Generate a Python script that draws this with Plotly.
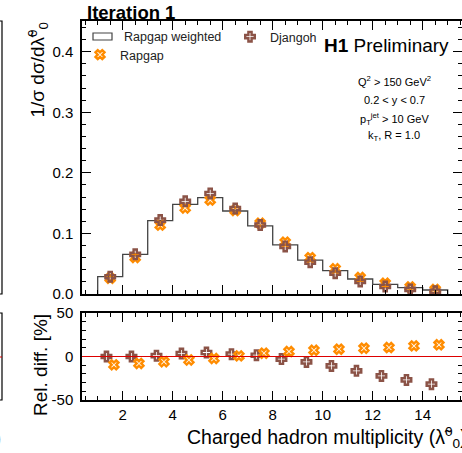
import plotly.graph_objects as go

# Charged hadron multiplicity bins (edges) and normalised cross sections
bin_edges = [1, 2, 3, 4, 5, 6, 7, 8, 9, 10, 11, 12, 13, 14, 15]
rapgap_weighted = [0.0286, 0.0655, 0.121, 0.148, 0.159, 0.137, 0.1125,
                   0.081, 0.056, 0.0385, 0.0248, 0.016, 0.0104, 0.0066]
rapgap = [0.0259, 0.0603, 0.1137, 0.142, 0.155, 0.138, 0.1168,
          0.0856, 0.060, 0.0417, 0.0272, 0.0176, 0.0117, 0.0075]
djangoh = [0.0286, 0.0655, 0.122, 0.153, 0.166, 0.141, 0.114,
           0.0786, 0.0525, 0.0343, 0.0207, 0.0124, 0.0076, 0.0045]

# Relative difference to the weighted Rapgap prediction, in percent
rapgap_rel = [-9.6, -8.0, -6.0, -4.0, -2.3, 0.7, 3.8,
              5.7, 7.2, 8.4, 9.5, 10.3, 12.2, 13.4]
djangoh_rel = [0.0, 0.0, 1.0, 3.4, 4.6, 2.7, 1.5,
               -3.0, -6.2, -10.8, -16.5, -22.3, -26.9, -31.8]

ratio_ticks = [-50, 0, 50]
ratio_ticktext = ["-50", "0", "50"]

W, H = 462, 453
FONT = "Liberation Sans, Arial, Helvetica, sans-serif"
ORANGE = "#ff8c00"
BROWN = "#8b5347"


def px(x):
    return x / W


def py(y):
    return 1 - y / H


centers = [(a + b) / 2 for a, b in zip(bin_edges[:-1], bin_edges[1:])]
step_x = [bin_edges[0]] + bin_edges[:-1] + [bin_edges[-1]]
step_y = [0] + rapgap_weighted + [0]

x_marker = dict(symbol="x-open", size=8, color=ORANGE, line=dict(width=2.4, color=ORANGE))
plus_marker = dict(symbol="cross-open", size=8, color=BROWN, line=dict(width=2.4, color=BROWN))

fig = go.Figure()

# Weighted Rapgap histogram
fig.add_trace(go.Scatter(
    x=step_x, y=step_y, mode="lines", line=dict(shape="hv", color="#444444", width=1.3),
    showlegend=False, xaxis="x", yaxis="y", hoverinfo="skip"))

# Rapgap and Djangoh predictions
fig.add_trace(go.Scatter(
    x=centers, y=rapgap, mode="markers", name="Rapgap", legend="legend",
    marker=x_marker, xaxis="x", yaxis="y"))
fig.add_trace(go.Scatter(
    x=centers, y=djangoh, mode="markers", name="Djangoh", legend="legend2",
    marker=plus_marker, xaxis="x", yaxis="y"))

# Relative differences (points shifted apart within each bin)
shift = 0.15
fig.add_trace(go.Scatter(
    x=[c - shift for c in centers], y=djangoh_rel, mode="markers", showlegend=False,
    marker=plus_marker, xaxis="x2", yaxis="y2"))
fig.add_trace(go.Scatter(
    x=[c + shift for c in centers], y=rapgap_rel, mode="markers", showlegend=False,
    marker=x_marker, xaxis="x2", yaxis="y2"))

xrange = [0.372, 15.572]
axis_common = dict(showline=True, linecolor="black", linewidth=1.5, mirror="ticks",
                   ticks="inside", ticklen=9, tickwidth=1, tickcolor="black",
                   showgrid=False, zeroline=False, automargin=False,
                   tickfont=dict(family=FONT, size=15, color="black"))

fig.update_layout(
    template="none",
    width=W, height=H, margin=dict(l=0, r=0, t=0, b=0, pad=0),
    paper_bgcolor="white", plot_bgcolor="white",
    font=dict(family=FONT, color="black"),
    xaxis=dict(domain=[px(82), 1], range=xrange, dtick=2, tick0=0, showticklabels=False,
               anchor="y",
               minor=dict(dtick=0.5, tick0=0, ticks="inside", ticklen=4.5, tickcolor="black"),
               **axis_common),
    yaxis=dict(domain=[py(294), py(21)], range=[0, 0.4507], dtick=0.1, tick0=0,
               tickformat=".1f", anchor="x", ticklabelstandoff=4,
               minor=dict(dtick=0.02, tick0=0, ticks="inside", ticklen=4.5, tickcolor="black"),
               **axis_common),
    xaxis2=dict(domain=[px(82), 1], range=xrange, dtick=2, tick0=0, anchor="y2",
                ticklabelstandoff=0,
                minor=dict(dtick=0.5, tick0=0, ticks="inside", ticklen=4.5, tickcolor="black"),
                **axis_common),
    yaxis2=dict(domain=[py(400), py(313)], range=[-50, 50], tickmode="array",
                tickvals=ratio_ticks, ticktext=ratio_ticktext, anchor="x2",
                ticklabelstandoff=4,
                minor=dict(dtick=10, tick0=0, ticks="inside", ticklen=4.5, tickcolor="black"),
                **axis_common),
    legend=dict(x=px(80), y=py(40), xanchor="left", yanchor="top",
                bgcolor="rgba(0,0,0,0)", borderwidth=0,
                font=dict(family=FONT, size=12.5, color="#222222")),
    legend2=dict(x=px(230), y=py(22), xanchor="left", yanchor="top",
                 bgcolor="rgba(0,0,0,0)", borderwidth=0,
                 font=dict(family=FONT, size=12.5, color="#222222")),
)

# Zero line of the ratio panel
fig.add_shape(type="line", xref="x2 domain", yref="y2", x0=0, x1=1, y0=0, y1=0,
              line=dict(color="#dd0000", width=1.2))

# Legend box for the weighted histogram
fig.add_shape(type="rect", xref="paper", yref="paper",
              x0=px(93), x1=px(112), y0=py(40), y1=py(33),
              line=dict(color="#444444", width=1.2), fillcolor="white")

# Edge of the neighbouring panel
fig.add_shape(type="rect", xref="paper", yref="paper",
              x0=px(-10), x1=px(2), y0=py(294), y1=py(21),
              line=dict(color="black", width=1.2))
fig.add_shape(type="rect", xref="paper", yref="paper",
              x0=px(-10), x1=px(2), y0=py(400), y1=py(313),
              line=dict(color="black", width=1.2))
fig.add_shape(type="line", xref="paper", yref="paper",
              x0=px(-10), x1=px(2), y0=py(357), y1=py(357),
              line=dict(color="#dd0000", width=1.2))

annotations = [
    dict(text="Rapgap weighted", x=px(122), y=py(37), xanchor="left", yanchor="middle",
         font=dict(size=12.5, color="#222222")),
    dict(text="<b>Iteration 1</b>", x=px(85), y=py(12), xanchor="left", yanchor="middle",
         font=dict(size=18.5)),
    dict(text="<b>H1</b> Preliminary", x=px(451), y=py(46), xanchor="right", yanchor="middle",
         font=dict(size=19)),
    dict(text="Q<sup>2</sup> > 150 GeV<sup>2</sup>", x=px(394), y=py(81),
         xanchor="center", yanchor="middle", font=dict(size=11)),
    dict(text="0.2 < y < 0.7", x=px(394), y=py(99.5),
         xanchor="center", yanchor="middle", font=dict(size=11)),
    dict(text="p<sub>T</sub><sup>jet</sup> > 10 GeV", x=px(394), y=py(119),
         xanchor="center", yanchor="middle", font=dict(size=11)),
    dict(text="k<sub>T</sub>, R = 1.0", x=px(394), y=py(136),
         xanchor="center", yanchor="middle", font=dict(size=11)),
    dict(text="1/σ dσ/dλ̃<sup>0</sup><sub>0</sub>", x=px(38), y=py(21), textangle=-90,
         xanchor="center", yanchor="top", font=dict(size=19)),
    dict(text="Rel. diff. [%]", x=px(40), y=py(312), textangle=-90,
         xanchor="center", yanchor="top", font=dict(size=19)),
    dict(text="Charged hadron multiplicity (λ̃<sup>0</sup><sub>0</sub>)", x=px(185), y=py(437),
         xanchor="left", yanchor="middle", font=dict(size=19.5)),
    dict(text=")", x=px(3), y=py(437), xanchor="right", yanchor="middle",
         font=dict(size=19, color="#888888")),
]
for a in annotations:
    a.update(xref="paper", yref="paper", showarrow=False)
    a["font"] = dict(family=FONT, color=a["font"].get("color", "black"), size=a["font"]["size"])
    fig.add_annotation(**a)

fig.write_html("out.html")
